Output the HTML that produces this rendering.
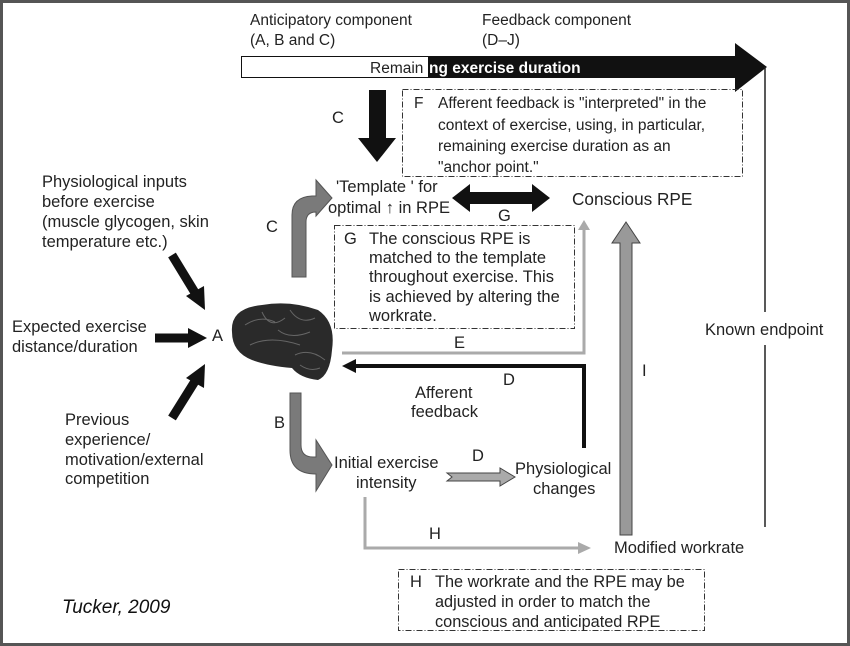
<!DOCTYPE html>
<html><head><style>
body{margin:0;background:#fff}
svg{display:block}
text{font-family:"Liberation Sans",sans-serif;fill:#222}
</style></head><body>
<svg width="850" height="646" viewBox="0 0 850 646" font-size="16.5">
<rect x="1.5" y="1.5" width="847" height="643" fill="#fff" stroke="#555" stroke-width="3"/>
<text x="250" y="25" font-size="15.5">Anticipatory component</text>
<text x="250" y="45" font-size="15.5">(A, B and C)</text>
<text x="482" y="25" font-size="15.5">Feedback component</text>
<text x="482" y="45" font-size="15.5">(D–J)</text>
<polygon points="428,56 735,56 735,43 767,67 735,92 735,78 428,78" fill="#111"/>
<rect x="241.5" y="56.5" width="187" height="21" fill="#fff" stroke="#111"/>
<text x="370" y="73" font-size="15.5">Remain</text>
<text x="429" y="73" font-size="15.5" font-weight="bold" style="fill:#fff">ng exercise duration</text>
<line x1="765" y1="67" x2="765" y2="527" stroke="#222" stroke-width="1.5"/>
<rect x="703" y="312" width="124" height="33" fill="#fff"/>
<text x="705" y="335" font-size="16.5">Known endpoint</text>
<polygon points="369,90 386,90 386,138 396,138 377,162 358,138 369,138" fill="#111"/>
<text x="332" y="123">C</text>
<rect x="402.5" y="89.5" width="340" height="87" fill="none" stroke="#333" stroke-dasharray="6,2,1,2"/>
<text x="414" y="108" font-size="15.5">F</text>
<text x="438" y="108" font-size="15.5">Afferent feedback is "interpreted" in the</text>
<text x="438" y="130" font-size="15.5">context of exercise, using, in particular,</text>
<text x="438" y="151" font-size="15.5">remaining exercise duration as an</text>
<text x="438" y="172" font-size="15.5">"anchor point."</text>
<text x="336" y="192">'Template ' for</text>
<text x="328" y="213">optimal ↑ in RPE</text>
<polygon points="452,198 470,184 470,192 532,192 532,184 550,198 532,212 532,204 470,204 470,212" fill="#111"/>
<text x="498" y="221">G</text>
<text x="572" y="205" font-size="17.2">Conscious RPE</text>
<path d="M292,277 L292,215 Q292,197 312,196 L316,196 L316,180 L332,198 L316,216 L316,212 Q306,212 306,222 L306,277 Z" fill="#7a7a7a" stroke="#555"/>
<text x="266" y="232">C</text>
<rect x="334.5" y="225.5" width="240" height="103" fill="none" stroke="#333" stroke-dasharray="6,2,1,2"/>
<text x="344" y="244">G</text>
<text x="369" y="244">The conscious RPE is</text>
<text x="369" y="263">matched to the template</text>
<text x="369" y="282">throughout exercise. This</text>
<text x="369" y="302">is achieved by altering the</text>
<text x="369" y="321">workrate.</text>
<polyline points="342,353 584,353 584,228" fill="none" stroke="#aaa" stroke-width="3"/>
<polygon points="578,230 584,220 590,230" fill="#aaa"/>
<text x="454" y="348">E</text>
<polygon points="620,535 632,535 632,243 640,243 626,222 612,243 620,243" fill="#999" stroke="#444"/>
<text x="642" y="376">I</text>
<polyline points="584,448 584,366 352,366" fill="none" stroke="#111" stroke-width="4"/>
<polygon points="342,366 356,359 356,373" fill="#111"/>
<text x="503" y="385">D</text>
<text x="415" y="398">Afferent</text>
<text x="411" y="417">feedback</text>
<path d="M232,332 Q230,308 262,305 Q290,300 318,310 Q336,322 332,350 Q330,375 318,380 Q300,378 292,368 Q268,366 252,360 Q232,352 232,332 Z" fill="#2a2a2a"/>
<g stroke="#666" stroke-width="1" fill="none">
<path d="M245,325 Q260,315 275,322 M262,312 Q270,330 285,318 M290,310 Q300,325 315,318 M250,345 Q270,335 300,345 M295,355 Q310,348 325,360 M278,330 Q290,340 310,332 M300,365 Q310,372 320,368"/>
</g>
<text x="212" y="341">A</text>
<text x="42" y="187">Physiological inputs</text>
<text x="42" y="207">before exercise</text>
<text x="42" y="227">(muscle glycogen, skin</text>
<text x="42" y="247">temperature etc.)</text>
<text x="12" y="332">Expected exercise</text>
<text x="12" y="352">distance/duration</text>
<text x="65" y="425">Previous</text>
<text x="65" y="445">experience/</text>
<text x="65" y="465">motivation/external</text>
<text x="65" y="484">competition</text>
<line x1="172" y1="255" x2="197" y2="296" stroke="#111" stroke-width="9"/>
<polygon points="186,296 205,310 204,286" fill="#111"/>
<line x1="155" y1="338" x2="190" y2="338" stroke="#111" stroke-width="9"/>
<polygon points="188,328 207,338 188,348" fill="#111"/>
<line x1="172" y1="418" x2="197" y2="378" stroke="#111" stroke-width="9"/>
<polygon points="186,378 205,364 204,388" fill="#111"/>
<path d="M290,393 L301,393 L301,445 Q301,457 313,457 L316,457 L316,440 L332,465 L316,491 L316,474 Q290,474 290,450 Z" fill="#7a7a7a" stroke="#555"/>
<text x="274" y="428">B</text>
<text x="334" y="468">Initial exercise</text>
<text x="356" y="488">intensity</text>
<polygon points="447,473 500,473 500,468 515,477 500,486 500,481 447,481 452,477" fill="#aaa" stroke="#444"/>
<text x="472" y="461">D</text>
<text x="515" y="474">Physiological</text>
<text x="533" y="494">changes</text>
<polyline points="365,497 365,548 580,548" fill="none" stroke="#aaa" stroke-width="3"/>
<polygon points="578,542 591,548 578,554" fill="#aaa"/>
<text x="429" y="539">H</text>
<text x="614" y="553" font-size="16.5">Modified workrate</text>
<rect x="398.5" y="569.5" width="306" height="61" fill="none" stroke="#333" stroke-dasharray="6,2,1,2"/>
<text x="410" y="587">H</text>
<text x="435" y="587" font-size="16.3">The workrate and the RPE may be</text>
<text x="435" y="607" font-size="16.3">adjusted in order to match the</text>
<text x="435" y="627" font-size="16.3">conscious and anticipated RPE</text>
<text x="62" y="613" font-size="19" font-style="italic" style="fill:#111">Tucker, 2009</text>
</svg>
</body></html>
